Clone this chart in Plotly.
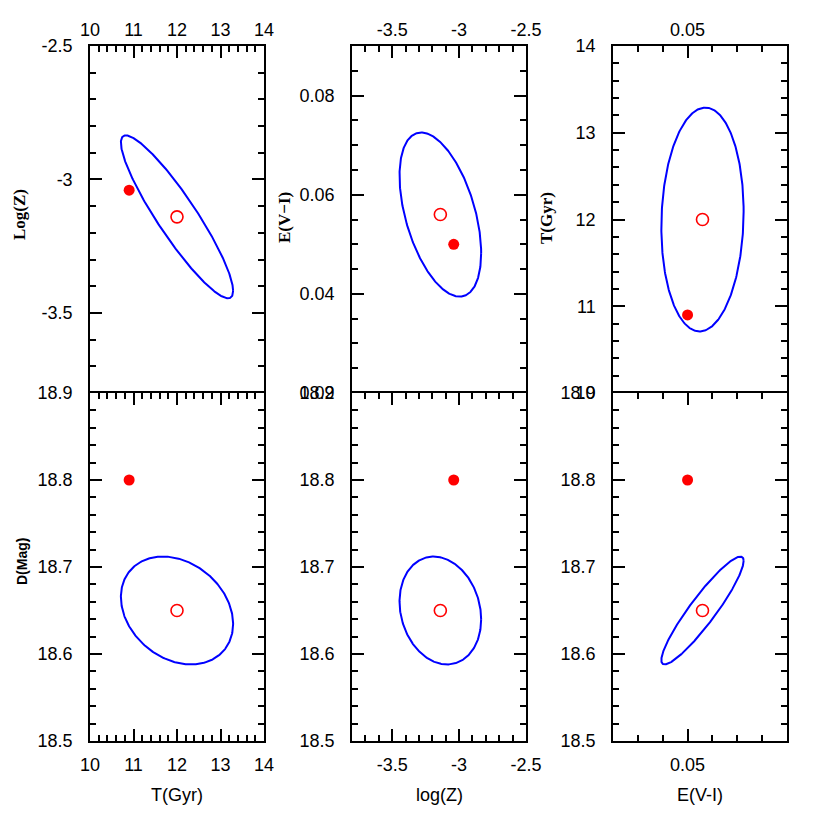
import numpy as np
import plotly.graph_objects as go

# ---- data ----
params = ["T", "logZ", "E", "D"]
best_fit = {"T": 12.0, "logZ": -3.14, "E": 0.056, "D": 18.65}      # open circle
true_val = {"T": 10.9, "logZ": -3.04, "E": 0.05, "D": 18.80}       # filled circle
half_extent = {"T": 1.29, "logZ": 0.305, "E": 0.01655, "D": 0.062}  # ellipse half-widths
correlation = {("T", "logZ"): -0.91, ("logZ", "E"): -0.47, ("E", "T"): 0.07,
               ("T", "D"): -0.25, ("logZ", "D"): -0.165, ("E", "D"): 0.92}

# panel (x-param, y-param)
panels = [("T", "logZ"), ("logZ", "E"), ("E", "T"),
          ("T", "D"), ("logZ", "D"), ("E", "D")]

ranges = {"T": [10, 14], "logZ": [-3.8, -2.5], "E": [0.02, 0.09], "D": [18.5, 18.9]}
major_vals = {"T": [10, 11, 12, 13, 14], "logZ": [-3.5, -3.0, -2.5],
              "E_x": [0.05], "E_y": [0.02, 0.04, 0.06, 0.08],
              "D": [18.5, 18.6, 18.7, 18.8, 18.9]}
major_text = {"T": ["10", "11", "12", "13", "14"], "logZ": ["-3.5", "-3", "-2.5"],
              "E_x": ["0.05"], "E_y": ["0.02", "0.04", "0.06", "0.08"],
              "D": ["18.5", "18.6", "18.7", "18.8", "18.9"]}
minor_step = {"T": 0.2, "logZ": 0.1, "E_x": 0.01, "E_y": 0.005, "D": 0.02}

bottom_titles = ["T(Gyr)", "log(Z)", "E(V-I)"]
left_titles = ["Log(Z)", "E(V\u2212I)", "T(Gyr)", "D(Mag)"]

# ---- layout geometry (page pixels; page body has an 8px margin) ----
OFF = 8
W = H = 814
col_px = [(90, 264), (352, 526), (613, 787)]
row_px = [(46, 393), (393, 741)]  # top, bottom (pixel from top)


def fx(p):
    return (p - OFF) / W


def fy(p):
    return (H - (p - OFF)) / H


fig = go.Figure()

t = np.linspace(0, 2 * np.pi, 400)
for i, (px, py) in enumerate(panels):
    k = "" if i == 0 else str(i + 1)
    rho = correlation.get((px, py), correlation.get((py, px)))
    phi = np.arccos(rho)
    ex = best_fit[px] + half_extent[px] * np.cos(t)
    ey = best_fit[py] + half_extent[py] * np.cos(t + phi)
    fig.add_trace(go.Scatter(x=ex, y=ey, mode="lines", line=dict(color="#0000ff", width=2),
                             xaxis="x" + k, yaxis="y" + k, showlegend=False, hoverinfo="skip"))
    fig.add_trace(go.Scatter(x=[true_val[px]], y=[true_val[py]], mode="markers",
                             marker=dict(color="#ff0000", size=11, symbol="circle"),
                             xaxis="x" + k, yaxis="y" + k, showlegend=False))
    fig.add_trace(go.Scatter(x=[best_fit[px]], y=[best_fit[py]], mode="markers",
                             marker=dict(color="#ff0000", size=12, symbol="circle-open",
                                         line=dict(width=1.6)),
                             xaxis="x" + k, yaxis="y" + k, showlegend=False))

font_tick = dict(family="Liberation Sans, Arial", size=18, color="black")


def key_for(p, axis):
    if p == "E":
        return "E_x" if axis == "x" else "E_y"
    return p


layout = {}
for i, (px, py) in enumerate(panels):
    r, c = divmod(i, 3)
    k = "" if i == 0 else str(i + 1)
    x0, x1 = col_px[c]
    ytop, ybot = row_px[r]
    kx = key_for(px, "x")
    ky = key_for(py, "y")
    layout["xaxis" + k] = dict(
        domain=[fx(x0), fx(x1)], range=ranges[px], anchor="y" + k,
        side="top" if r == 0 else "bottom", automargin=False,
        tickmode="array", tickvals=major_vals[kx], ticktext=major_text[kx],
        ticks="inside", ticklen=12, tickwidth=1.5, tickcolor="black",
        showline=True, linecolor="black", linewidth=1.5,
        mirror=False if r == 0 else "ticks",
        showgrid=False, zeroline=False, tickfont=font_tick,
        ticklabelstandoff=1 if r == 0 else 7,
        minor=dict(ticks="inside", ticklen=6, tickwidth=1.5, tickcolor="black",
                   tick0=ranges[px][0], dtick=minor_step[kx], showgrid=False),
    )
    layout["yaxis" + k] = dict(
        domain=[fy(ybot), fy(ytop)], range=ranges[py], anchor="x" + k,
        automargin=False,
        tickmode="array", tickvals=major_vals[ky], ticktext=major_text[ky],
        ticks="inside", ticklen=12, tickwidth=1.5, tickcolor="black",
        showline=True, linecolor="black", linewidth=1.5, mirror="ticks",
        showgrid=False, zeroline=False, tickfont=font_tick,
        ticklabelstandoff=12,
        minor=dict(ticks="inside", ticklen=6, tickwidth=1.5, tickcolor="black",
                   tick0=ranges[py][0], dtick=minor_step[ky], showgrid=False),
    )

annotations = []
for c, txt in enumerate(bottom_titles):
    annotations.append(dict(text=txt, x=fx((col_px[c][0] + col_px[c][1]) / 2), y=fy(795),
                            xref="paper", yref="paper", showarrow=False,
                            font=dict(family="Liberation Sans, Arial", size=18, color="black"),
                            xanchor="center", yanchor="middle"))
left_pos = [(20, 215, "Liberation Serif", 17), (285, 218, "Liberation Serif", 17),
            (547, 218, "Liberation Serif", 17), (22, 562, "Liberation Sans", 14)]
for txt, (xp, yp, fam, fs) in zip(left_titles, left_pos):
    annotations.append(dict(text="<b>" + txt + "</b>", x=fx(xp), y=fy(yp),
                            xref="paper", yref="paper",
                            showarrow=False, textangle=-90,
                            font=dict(family=fam, size=fs, color="black"),
                            xanchor="center", yanchor="middle"))

fig.update_layout(width=W, height=H, margin=dict(l=0, r=0, t=0, b=0, autoexpand=False),
                  paper_bgcolor="white", plot_bgcolor="white",
                  annotations=annotations, showlegend=False, **layout)

fig.write_html("out.html")
